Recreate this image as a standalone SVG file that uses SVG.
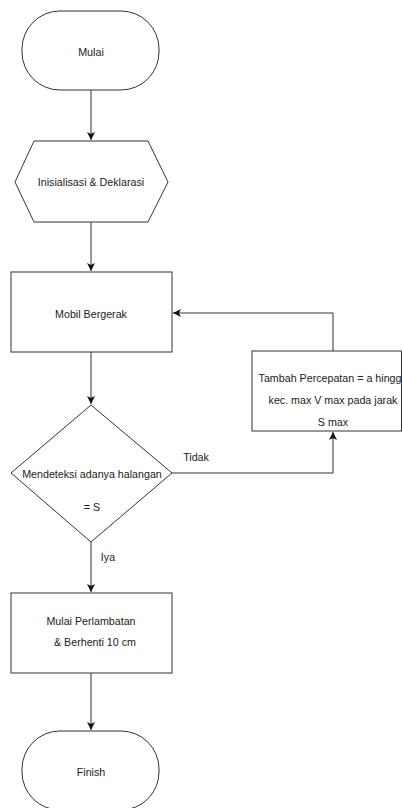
<svg xmlns="http://www.w3.org/2000/svg" width="402" height="808" viewBox="0 0 402 808">
<style>
.s{fill:#fff;stroke:#333;stroke-width:1}
.t{font-family:"Liberation Sans",Arial,sans-serif;font-size:10.7px;fill:#222;text-anchor:middle}
.c{fill:none;stroke:#333;stroke-width:1}
</style>
<defs>
<marker id="a" markerWidth="10" markerHeight="10" refX="8" refY="5" orient="auto" markerUnits="userSpaceOnUse">
<path d="M0,1 L8,5 L0,9 L2,5 Z" fill="#111"/>
</marker>
</defs>
<rect width="402" height="808" fill="#fff"/>
<g id="connectors">
<path class="c" d="M91,90 V140" marker-end="url(#a)"/>
<path class="c" d="M91,222 V271" marker-end="url(#a)"/>
<path class="c" d="M91,352 V404" marker-end="url(#a)"/>
<path class="c" d="M91,542 V592" marker-end="url(#a)"/>
<path class="c" d="M91,673 V730" marker-end="url(#a)"/>
<path class="c" d="M172,473 H333 V432" marker-end="url(#a)"/>
<path class="c" d="M333,351 V313 H173" marker-end="url(#a)"/>
<text class="t" x="196" y="461">Tidak</text>
<text class="t" x="108" y="561">Iya</text>
</g>
<g id="mulai">
<rect class="s" x="22" y="11" width="137" height="79" rx="38" ry="38"/>
<text class="t" x="91" y="56">Mulai</text>
</g>
<g id="init">
<polygon class="s" points="15,182 34,141 148,141 168,182 148,222 34,222"/>
<text class="t" x="91" y="186">Inisialisasi &amp; Deklarasi</text>
</g>
<g id="bergerak">
<rect class="s" x="11" y="272" width="161" height="80"/>
<text class="t" x="91" y="318">Mobil Bergerak</text>
</g>
<g id="tambah">
<rect class="s" x="252" y="351" width="149.5" height="80"/>
<text class="t" x="333" y="382">Tambah Percepatan = a hingga</text>
<text class="t" x="333" y="404">kec. max V max pada jarak</text>
<text class="t" x="333" y="426">S max</text>
</g>
<g id="deteksi">
<polygon class="s" points="91,405 172,473 91,542 11,473"/>
<text class="t" x="92" y="478">Mendeteksi adanya halangan</text>
<text class="t" x="92" y="511">= S</text>
</g>
<g id="perlambatan">
<rect class="s" x="11" y="593" width="161" height="80"/>
<text class="t" x="91" y="625">Mulai Perlambatan</text>
<text class="t" x="95" y="646">&amp; Berhenti 10 cm</text>
</g>
<g id="finish">
<rect class="s" x="22" y="731" width="137" height="79" rx="38" ry="38"/>
<text class="t" x="91" y="776">Finish</text>
</g>
</svg>
